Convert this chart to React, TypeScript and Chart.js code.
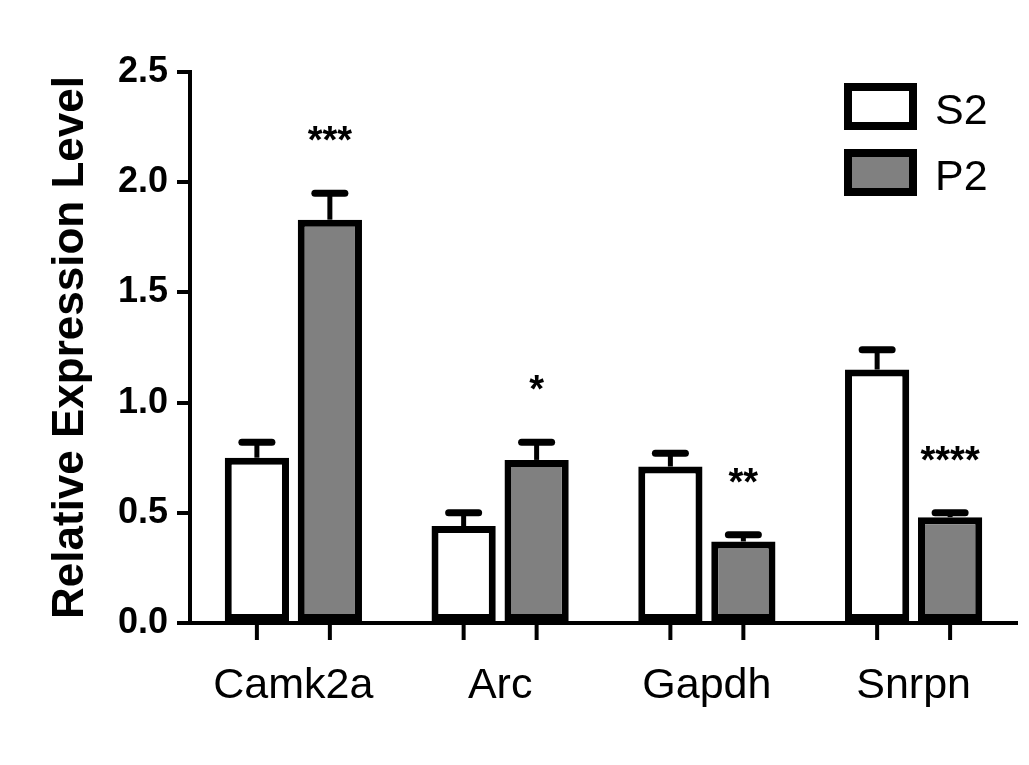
import React, { useEffect, useRef } from 'react';
import { Chart, registerables } from 'chart.js';

Chart.register(...registerables);

// Genes on the x axis
const categories = ['Camk2a', 'Arc', 'Gapdh', 'Snrpn'];

// Series: S2 (supernatant) and P2 (pellet) fractions, mean and SEM
const s2Values = [0.75, 0.44, 0.71, 1.15];
const s2Errors = [0.07, 0.06, 0.06, 0.09];
const p2Values = [1.83, 0.74, 0.37, 0.48];
const p2Errors = [0.12, 0.08, 0.03, 0.02];

// Significance marks placed over the P2 bars
const p2Significance = ['***', '*', '**', '****'];

// Y axis tick values
const yTicks = [0, 0.5, 1.0, 1.5, 2.0, 2.5];

const FONT = '"Liberation Sans", Arial, Helvetica, sans-serif';
const GREY = '#808080';

// Upward-only error bars with a flat cap, drawn from each bar's top
const errorBarPlugin = {
  id: 'errorBars',
  afterDatasetsDraw(chart: any) {
    const ctx = chart.ctx;
    const yScale = chart.scales.y;
    chart.data.datasets.forEach((ds: any, di: number) => {
      const meta = chart.getDatasetMeta(di);
      meta.data.forEach((bar: any, i: number) => {
        const v = ds.data[i];
        const e = ds.errors[i];
        const yTop = yScale.getPixelForValue(v);
        const yCap = yScale.getPixelForValue(v + e);
        ctx.save();
        ctx.strokeStyle = '#000';
        ctx.lineWidth = 5;
        ctx.beginPath();
        ctx.moveTo(bar.x, yTop);
        ctx.lineTo(bar.x, yCap);
        ctx.stroke();
        ctx.lineWidth = 7;
        ctx.lineCap = 'round';
        ctx.beginPath();
        ctx.moveTo(bar.x - 15, yCap);
        ctx.lineTo(bar.x + 15, yCap);
        ctx.stroke();
        ctx.restore();
      });
    });
  },
};

// Tick marks under every bar, significance stars and the legend box
const decorPlugin = {
  id: 'decor',
  afterDraw(chart: any) {
    const ctx = chart.ctx;
    const area = chart.chartArea;
    const yScale = chart.scales.y;

    // x-axis tick under each bar
    ctx.save();
    ctx.strokeStyle = '#000';
    ctx.lineWidth = 4;
    chart.data.datasets.forEach((_ds: any, di: number) => {
      chart.getDatasetMeta(di).data.forEach((bar: any) => {
        ctx.beginPath();
        ctx.moveTo(bar.x, area.bottom);
        ctx.lineTo(bar.x, area.bottom + 17);
        ctx.stroke();
      });
    });
    ctx.restore();

    // significance stars above P2 error caps
    const p2Meta = chart.getDatasetMeta(1);
    ctx.save();
    ctx.fillStyle = '#000';
    ctx.font = `bold 38px ${FONT}`;
    ctx.textAlign = 'center';
    ctx.textBaseline = 'alphabetic';
    p2Meta.data.forEach((bar: any, i: number) => {
      const capY = yScale.getPixelForValue(p2Values[i] + p2Errors[i]);
      const centerY = capY - 62;
      ctx.fillText(p2Significance[i], bar.x, centerY + 22);
    });
    ctx.restore();

    // legend
    const entries = [
      { label: 'S2', fill: '#ffffff' },
      { label: 'P2', fill: GREY },
    ];
    const boxLeft = area.right - 173;
    ctx.save();
    entries.forEach((en, i) => {
      const top = area.top + 11 + i * 66;
      const w = 73;
      const h = 47;
      ctx.fillStyle = en.fill;
      ctx.fillRect(boxLeft + 4, top + 4, w - 8, h - 8);
      ctx.strokeStyle = '#000';
      ctx.lineWidth = 8;
      ctx.strokeRect(boxLeft + 4, top + 4, w - 8, h - 8);
      ctx.fillStyle = '#000';
      ctx.font = `43px ${FONT}`;
      ctx.textAlign = 'left';
      ctx.textBaseline = 'alphabetic';
      ctx.fillText(en.label, boxLeft + 91, top + h / 2 + 17);
    });
    ctx.restore();
  },
};

export default function App() {
  const canvasRef = useRef<HTMLCanvasElement | null>(null);

  useEffect(() => {
    const canvas = canvasRef.current;
    if (!canvas) return;
    const chart = new Chart(canvas, {
      type: 'bar',
      data: {
        labels: categories,
        datasets: [
          {
            label: 'S2',
            data: s2Values,
            errors: s2Errors,
            backgroundColor: '#ffffff',
            borderColor: '#000000',
            borderWidth: 7,
            borderSkipped: false,
          } as any,
          {
            label: 'P2',
            data: p2Values,
            errors: p2Errors,
            backgroundColor: GREY,
            borderColor: '#000000',
            borderWidth: 7,
            borderSkipped: false,
          } as any,
        ],
      },
      options: {
        responsive: false,
        animation: false,
        devicePixelRatio: 1,
        layout: { padding: { top: 72, right: 12, bottom: 0, left: 0 } },
        datasets: {
          bar: { categoryPercentage: 0.706, barPercentage: 0.88 },
        },
        plugins: {
          legend: { display: false },
          tooltip: { enabled: false },
        },
        scales: {
          x: {
            type: 'category',
            offset: true,
            grid: { display: false },
            border: { display: true, color: '#000', width: 4 },
            ticks: {
              color: '#000',
              font: { family: FONT, size: 43 },
              padding: 29,
              maxRotation: 0,
              autoSkip: false,
            },
            afterFit(scale: any) {
              scale.height = 142;
            },
          },
          y: {
            type: 'linear',
            min: 0,
            max: 2.5,
            afterBuildTicks(scale: any) {
              scale.ticks = yTicks.map((v) => ({ value: v }));
            },
            grid: {
              display: true,
              drawOnChartArea: false,
              drawTicks: true,
              tickLength: 13,
              tickWidth: 4,
              tickColor: '#000',
              color: '#000',
              lineWidth: 4,
            },
            border: { display: true, color: '#000', width: 4 },
            ticks: {
              color: '#000',
              padding: 9,
              font: { family: FONT, size: 36, weight: 'bold' },
              callback: (v: any) => Number(v).toFixed(1),
            },
            title: {
              display: true,
              text: 'Relative Expression Level',
              color: '#000',
              font: { family: FONT, size: 44, weight: 'bold' },
              padding: { top: 44, bottom: 0 },
            },
            afterFit(scale: any) {
              scale.width = 190;
            },
          },
        },
      },
      plugins: [errorBarPlugin, decorPlugin],
    } as any);
    return () => chart.destroy();
  }, []);

  return (
    <div style={{ position: 'absolute', left: 0, top: 0, width: 1029, height: 765, background: '#ffffff' }}>
      <canvas ref={canvasRef} width={1029} height={765} style={{ display: 'block' }} />
    </div>
  );
}
